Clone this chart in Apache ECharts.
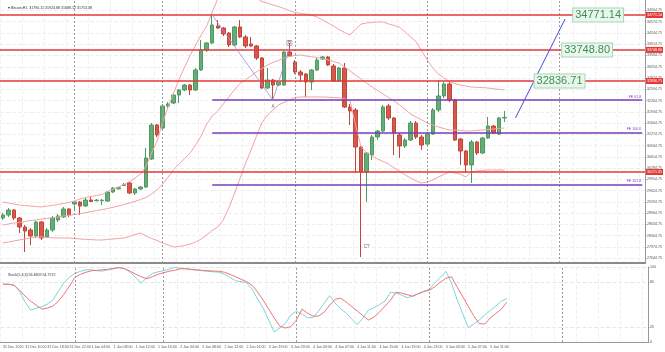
<!DOCTYPE html>
<html><head><meta charset="utf-8">
<script src="https://cdn.jsdelivr.net/npm/echarts@6/dist/echarts.min.js"></script>
<style>html,body{margin:0;padding:0;background:#fff}#c{width:665px;height:352px}</style>
</head><body><div id="c"></div>
<script>
const timeLabels = ["31 Dec 2020","31 Dec 10:00","31 Dec 18:00","31 Dec 22:00","1 Jan 04:00","1 Jan 08:00","1 Jan 12:00","1 Jan 16:00","2 Jan 04:00","2 Jan 08:00","2 Jan 12:00","2 Jan 16:00","3 Jan 19:00","3 Jan 23:00","4 Jan 03:00","4 Jan 07:00","4 Jan 11:00","4 Jan 15:00","4 Jan 19:00","4 Jan 23:00","5 Jan 03:00","5 Jan 07:00","5 Jan 11:00"];
const openP = [28823,28911,29058,28823,28559,28472,28296,28706,28267,28472,28765,28853,29087,29233,29292,29175,29351,29330,29330,29321,29585,29680,29775,29849,29556,29673,29731,30552,31548,31460,32105,32193,32427,32574,32720,32574,33160,33746,33951,34449,34390,34244,33892,34420,34127,33922,33863,33511,32632,32867,32720,32720,33687,33394,33101,33042,32808,33160,33482,33541,33277,32837,33218,32075,31988,30903,30171,30669,31196,31372,32105,31753,31255,30933,31109,31607,31196,30991,31284,31988,32398,32749,32281,31138,30786,30377,31050,30728,31167,31519,31284,31753];
const closeP = [28911,29058,28823,28559,28442,28296,28706,28237,28472,28823,28882,29087,28911,29292,29175,29351,29307,29345,29345,29585,29702,29710,29800,29556,29673,29731,30581,31548,31255,32105,32163,32427,32574,32720,32574,33160,33746,33951,34478,34390,34214,33892,34420,34127,33863,33863,33511,32632,32867,32720,32808,33687,33570,33101,33013,32808,33160,33453,33541,33306,32837,33218,32075,31958,30903,30171,30728,31196,31372,32075,31753,31314,30933,31109,31607,31196,30962,31284,31988,32398,32749,32281,31109,30786,30377,31050,30728,31167,31519,31314,31753,31770];
const lowP = [28765,28853,28765,28384,27827,28032,28237,28179,28237,28413,28706,28823,28853,29087,28911,29145,29292,29310,29204,29292,29556,29650,29761,29526,29497,29644,29702,30523,31196,31431,32046,32163,32193,32544,32427,32544,33130,33687,33922,34361,34156,33834,33863,34097,33804,33834,33453,32603,32603,32281,32691,32691,33541,33042,32808,32369,32574,33130,33453,33277,32808,32808,32046,31548,30142,27680,29292,30523,31109,31343,31695,30669,30581,30874,31079,31138,30816,30933,31255,31929,32339,32222,31079,30377,30142,29849,30669,30698,31138,31284,31255,31636];
const highP = [28970,29116,29087,28853,28618,28530,28735,28735,28530,28882,28941,29145,29116,29321,29321,29409,29468,29380,29380,29614,29731,29740,29849,29878,29702,29761,30874,31607,31577,32163,32222,32456,32603,32749,32749,33218,34039,33980,34771,34625,34420,34273,34449,34625,34185,34127,33892,33541,33218,32896,32837,33716,33951,33453,33160,33072,33189,33511,33570,33570,33336,33248,33365,32163,32046,30933,30757,31255,31402,32134,32163,31782,31314,31167,31665,31665,31255,31343,32046,32867,32808,32808,32310,31167,30816,31109,31079,31196,31782,31548,31782,31958];
const bbUpper = [29292,29263,29233,29204,29189,29175,29160,29145,29175,29189,29219,29248,29277,29321,29380,29424,29453,29483,29512,29600,29673,29731,29805,29893,29995,30113,30347,30728,31079,31636,32075,32486,32896,33248,33599,33892,34185,34449,34859,35240,35386,35504,35562,35562,35504,35386,35269,35167,35123,35064,35020,34962,34903,34844,34815,34800,34771,34713,34625,34537,34449,34346,34258,34185,34361,34507,34537,34551,34566,34566,34507,34463,34405,34273,34127,33980,33716,33453,33218,33042,32925,32823,32764,32720,32691,32661,32653,32644,32632,32612,32594,32574];
const bbMiddle = [28618,28647,28677,28691,28721,28750,28765,28794,28808,28832,28853,28882,28903,28926,28952,28979,29011,29040,29070,29099,29137,29175,29219,29263,29310,29365,29424,29526,29658,29819,30024,30244,30406,30567,30728,30962,31226,31577,31812,31958,32163,32369,32574,32764,32867,32984,33101,33204,33306,33379,33438,33511,33555,33585,33599,33570,33549,33526,33491,33453,33409,33365,33248,33130,33013,32896,32778,32661,32559,32456,32354,32251,32134,32002,31869,31782,31695,31607,31548,31490,31446,31402,31402,31387,31372,31372,31387,31402,31416,31431,31446,31460];
const bbLower = [28091,28120,28149,28179,28208,28237,28267,28267,28252,28243,28237,28237,28237,28223,28208,28199,28190,28179,28179,28193,28208,28223,28237,28281,28340,28384,28296,28223,28164,28091,28032,27973,27988,28018,28061,28120,28208,28325,28457,28559,28765,29117,29526,29966,30405,30801,31211,31613,31841,31988,32134,32207,32281,32354,32369,32369,32369,32369,32369,32363,32354,32345,32325,32251,31548,30903,30728,30640,30552,30479,30405,30288,30200,30083,29995,29907,29849,29878,29937,30024,30098,30171,30142,30113,30024,30171,30200,30215,30230,30230,30230,30230];
const stochMain = [77.0,77.0,75.7,67.7,53.1,42.5,45.2,47.1,50.5,55.8,67.7,79.0,86.3,91.6,94.3,96.3,96.3,95.0,94.6,96.3,97.6,98.9,97.6,93.0,85.7,78.4,86.3,91.6,93.6,95.2,96.9,99.6,98.3,97.6,96.5,95.6,95.0,94.3,93.6,93.0,90.3,86.3,81.7,80.4,79.0,70.4,57.1,45.2,29.2,13.3,18.6,24.6,35.9,41.2,37.2,32.5,32.5,41.2,51.8,61.8,51.8,44.5,38.5,30.5,23.2,31.9,42.5,45.8,49.8,54.4,66.4,65.1,62.4,59.1,61.1,64.4,67.7,70.4,79.0,86.3,94.3,78.4,57.1,38.5,19.3,23.9,29.2,35.9,41.8,47.8,54.4,57.8];
const stochSignal = [77.0,77.0,75.7,69.1,61.1,54.4,49.1,43.8,45.2,47.8,54.4,63.7,74.4,86.3,90.3,93.0,95.0,95.6,96.3,96.9,98.3,99.3,97.6,94.3,90.3,87.0,84.3,87.0,90.3,92.3,94.3,95.6,97.6,97.6,96.9,96.3,95.6,95.0,94.6,94.3,93.0,90.3,87.0,83.7,80.4,75.7,66.4,55.8,43.8,31.9,21.2,18.6,20.6,29.2,43.8,38.5,34.5,34.5,39.8,49.1,57.1,58.4,53.1,47.1,41.2,35.2,29.2,33.2,39.8,47.8,55.8,66.4,65.1,63.1,61.1,64.4,67.1,69.1,73.7,79.7,85.0,87.0,73.7,61.1,47.8,35.2,24.6,23.9,31.9,37.8,43.8,53.1];
const priceTicks = [34904.75,34574.75,34244.75,33914.75,33584.75,33254.75,32924.75,32594.75,32264.75,31934.75,31604.75,31274.75,30944.75,30614.75,30284.75,29954.75,29624.75,29294.75,28964.75,28634.75,28304.75,27974.75,27644.75];
const stochTicks = [0,20,80,100];
const resistLevels = [34771.14,33748.80,32836.71,30171.35];
const feLevels = [32295.20,31334.10,29811.40];
const feNames = ['FE 61.8','FE 100.0','FE 161.8'];
const targetPrices = [34771.14,33748.80,32836.71];
const targetSlots = [108,106,101];
const projLine = [[93,31753],[102,34654]];
const waveLine = [[38,34771],[49,32281],[52,33800]];
const waveLabels = [['A',49,32075],['B',52,33951],['C?',66,27973]];
const daySeparators = [13,29,53,77,101];
const feStartSlot = 38;
const slotCount = 117;

const categories = Array.from({length: slotCount}, (_, k) => String(k));
const candles = openP.map((o, i) => [o, closeP[i], lowP[i], highP[i]]);
const lastPrice = closeP[closeP.length - 1];
const tiny = {fontFamily: 'Liberation Sans', fontSize: 3.6, color: '#555'};
const sepLine = {color: '#9a9a9a', type: [2, 2], width: 1};

const chart = echarts.init(document.getElementById('c'));
chart.setOption({
  animation: false,
  backgroundColor: '#fff',
  title: [
    {text: '\u25BE Bitcoin,H1  31790.11 31924.88 31688.12 31753.38', left: 3, top: 1, textStyle: Object.assign({}, tiny, {color: '#333', fontWeight: 'normal'})},
    {text: 'Stoch(5,3,3) 56.4809 54.7572', left: 3, top: 268, textStyle: Object.assign({}, tiny, {color: '#333', fontWeight: 'normal'})}
  ],
  grid: [
    {left: -1, width: 649, top: 0, height: 263},
    {left: -1, width: 649, top: 267, height: 75}
  ],
  xAxis: [
    {type: 'category', gridIndex: 0, data: categories, boundaryGap: true,
     axisLine: {show: true, lineStyle: {color: '#8a8a8a', width: 2}}, axisTick: {show: false}, axisLabel: {show: false},
     splitLine: {show: true, interval: 3, lineStyle: {color: '#f0f0f0', type: 'dashed'}}},
    {type: 'category', gridIndex: 1, data: categories, boundaryGap: true,
     axisLine: {show: true, lineStyle: {color: '#999', width: 1}}, axisTick: {show: false},
     axisLabel: Object.assign({}, tiny, {show: true, interval: 0, align: 'left', margin: 3,
       formatter: (v, idx) => (idx % 4 === 0 && timeLabels[idx / 4]) ? timeLabels[idx / 4] : ''}),
     splitLine: {show: true, interval: 3, lineStyle: {color: '#f0f0f0', type: 'dashed'}}}
  ],
  yAxis: [
    {type: 'value', gridIndex: 0, position: 'right', min: 27504.7, max: 35210.6, scale: true,
     axisLine: {show: true, lineStyle: {color: '#999'}},
     axisTick: {show: true, length: 1.5, customValues: priceTicks, lineStyle: {color: '#999'}},
     axisLabel: Object.assign({}, tiny, {show: true, margin: 2, customValues: priceTicks, formatter: v => v.toFixed(2)}),
     splitLine: {show: true, lineStyle: {color: '#efefef', type: 'dashed'}}},
    {type: 'value', gridIndex: 1, position: 'right', min: 0, max: 100,
     axisLine: {show: true, lineStyle: {color: '#999'}},
     axisTick: {show: true, length: 1.5, customValues: stochTicks, lineStyle: {color: '#999'}},
     axisLabel: Object.assign({}, tiny, {show: true, margin: 2, customValues: stochTicks}),
     splitLine: {show: true, lineStyle: {color: '#e6e6e6', type: 'dashed'}}}
  ],
  series: [
    {type: 'line', name: 'BBU', xAxisIndex: 0, yAxisIndex: 0, data: bbUpper, symbol: 'none', lineStyle: {color: '#f2a3a3', width: 1}, clip: true, silent: true},
    {type: 'line', name: 'BBM', xAxisIndex: 0, yAxisIndex: 0, data: bbMiddle, symbol: 'none', lineStyle: {color: '#f2a3a3', width: 1}, clip: true, silent: true},
    {type: 'line', name: 'BBL', xAxisIndex: 0, yAxisIndex: 0, data: bbLower, symbol: 'none', lineStyle: {color: '#f2a3a3', width: 1}, clip: true, silent: true},
    {type: 'candlestick', name: 'Bitcoin', xAxisIndex: 0, yAxisIndex: 0, data: candles, barWidth: 4,
     itemStyle: {color: '#64ad76', color0: '#d9574a', borderColor: '#4f9a62', borderColor0: '#c2473b', borderWidth: 1},
     markLine: {
       silent: true, symbol: ['none', 'none'], animation: false,
       data: [
         ...daySeparators.map(s => ({xAxis: s, lineStyle: sepLine, label: {show: false}})),
         ...resistLevels.map(l => ({yAxis: l, lineStyle: {color: '#e53935', width: 1.6, type: 'solid'},
            label: {show: true, position: 'end', distance: 1, formatter: l.toFixed(2), fontFamily: 'Liberation Sans', fontSize: 3.6, color: '#fff', backgroundColor: '#e53935', padding: [1, 1]}})),
         ...feLevels.map((l, i) => [
            {coord: [feStartSlot, l], name: feNames[i], lineStyle: {color: '#7a3db8', width: 1.5, type: 'solid'},
             label: {show: true, position: 'insideEndTop', distance: 1, formatter: '{b}', fontFamily: 'Liberation Sans', fontSize: 3.6, color: '#7a3db8'}},
            {coord: [slotCount - 1, l]}]),
         [{coord: projLine[0], lineStyle: {color: '#4a4ad8', width: 1, type: 'solid'}, label: {show: false}}, {coord: projLine[1]}],
         [{coord: waveLine[0], lineStyle: {color: '#a08ad8', width: 0.8, type: 'solid'}, label: {show: false}}, {coord: waveLine[1]}],
         [{coord: waveLine[1], lineStyle: {color: '#a08ad8', width: 0.8, type: 'solid'}, label: {show: false}}, {coord: waveLine[2]}],
         {yAxis: lastPrice, lineStyle: {opacity: 0},
          label: {show: true, position: 'end', distance: 1, formatter: lastPrice.toFixed(2), fontFamily: 'Liberation Sans', fontSize: 3.6, color: '#fff', backgroundColor: '#4a4a4a', padding: [1, 1]}}
       ]
     },
     markPoint: {
       silent: true, animation: false, symbol: 'rect', symbolSize: [1, 1], itemStyle: {color: 'rgba(0,0,0,0)'},
       data: [
         ...targetPrices.map((p, i) => ({coord: [targetSlots[i], p], value: p.toFixed(2),
           label: {show: true, position: 'inside', formatter: '{c}', fontFamily: 'Liberation Sans', fontSize: 11, color: '#3b8f55', backgroundColor: '#eaf6ec', borderColor: '#a9d6b4', borderWidth: 1, padding: [1, 2]}})),
         ...waveLabels.map(w => ({coord: [w[1], w[2]], value: w[0],
           label: {show: true, position: 'inside', formatter: '{c}', fontFamily: 'Liberation Sans', fontSize: 4.5, color: '#666',
             borderColor: w[0] === 'B' ? '#888' : 'transparent', borderWidth: w[0] === 'B' ? 0.6 : 0, padding: [0, 1]}}))
       ]
     }},
    {type: 'line', name: 'Main', xAxisIndex: 1, yAxisIndex: 1, data: stochMain, symbol: 'none', lineStyle: {color: '#7fd4d8', width: 1}, silent: true,
     markLine: {silent: true, symbol: ['none', 'none'], data: daySeparators.map(s => ({xAxis: s, lineStyle: sepLine, label: {show: false}}))}},
    {type: 'line', name: 'Signal', xAxisIndex: 1, yAxisIndex: 1, data: stochSignal, symbol: 'none', lineStyle: {color: '#ef7474', width: 1}, silent: true}
  ]
});
</script></body></html>
